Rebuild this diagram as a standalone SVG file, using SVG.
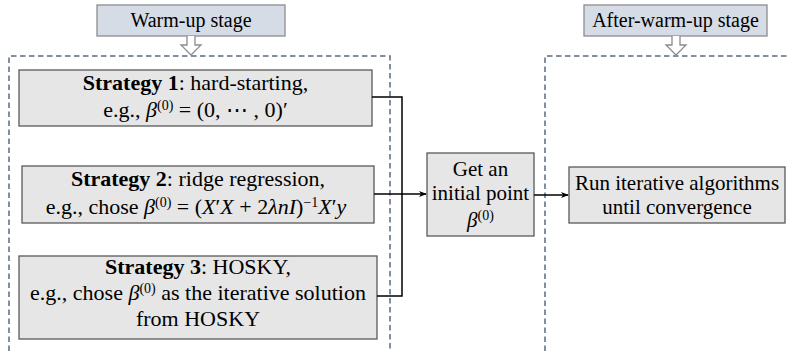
<svg xmlns="http://www.w3.org/2000/svg" width="790" height="351" viewBox="0 0 790 351">
<style>
.t{font-family:"Liberation Serif","Times New Roman",serif;font-size:22px;fill:#000;text-anchor:middle}
.s{font-size:20px}
.r{font-size:21px}
.m{font-style:italic}
.sup{font-size:14px}
.box{fill:#e7e6e6;stroke:#595959;stroke-width:1.3}
.stage{fill:#d6dce5;stroke:#8c8c8c;stroke-width:1.3}
.hollow{fill:#fff;stroke:#8c8c8c;stroke-width:1.3}
.dash{fill:none;stroke:#5a6b80;stroke-width:1.5;stroke-dasharray:5.5 3.5}
.conn{fill:none;stroke:#000;stroke-width:1.5}
</style>
<defs>
<marker id="ah" viewBox="0 0 10 10" refX="9" refY="5" markerWidth="8" markerHeight="8" markerUnits="userSpaceOnUse" orient="auto">
<path d="M0,1 L10,5 L0,9 L3,5 Z" fill="#000"/>
</marker>
</defs>
<g id="warmup-frame">
<path class="dash" d="M9,351 V56 H390 V351"/>
</g>
<g id="after-frame">
<path class="dash" d="M545,351 V56 H790"/>
</g>
<g id="warmup-label">
<rect class="stage" x="97" y="5" width="188" height="31"/>
<text class="t s" x="191" y="27">Warm-up stage</text>
<path class="hollow" d="M187,36 V45 H181 L191,55 L201,45 H195 V36"/>
</g>
<g id="after-label">
<rect class="stage" x="584" y="5" width="183" height="31"/>
<text class="t s" x="675.5" y="27">After-warm-up stage</text>
<path class="hollow" d="M672,36 V45 H666 L676,55 L686,45 H680 V36"/>
</g>
<g id="strategy1">
<rect class="box" x="19" y="70" width="353" height="56"/>
<text class="t" x="195.5" y="90"><tspan font-weight="bold">Strategy 1</tspan>: hard-starting,</text>
<text class="t" x="195.5" y="117">e.g., <tspan class="m">β</tspan><tspan class="sup" dy="-7">(0)</tspan><tspan dy="7"> = (0, ⋯ , 0)′</tspan></text>
</g>
<g id="strategy2">
<rect class="box" x="22" y="166" width="352" height="57"/>
<text class="t" x="198" y="186"><tspan font-weight="bold">Strategy 2</tspan>: ridge regression,</text>
<text class="t" x="196" y="214">e.g., chose <tspan class="m">β</tspan><tspan class="sup" dy="-7">(0)</tspan><tspan dy="7"> =  (</tspan><tspan class="m">X</tspan>′<tspan class="m">X</tspan> + 2<tspan class="m">λnI</tspan>)<tspan class="sup" dy="-7">−1</tspan><tspan class="m" dy="7">X</tspan>′<tspan class="m">y</tspan></text>
</g>
<g id="strategy3">
<rect class="box" x="19" y="256" width="358" height="83"/>
<text class="t" x="198" y="274"><tspan font-weight="bold">Strategy 3</tspan>: HOSKY,</text>
<text class="t" x="198" y="300">e.g., chose <tspan class="m">β</tspan><tspan class="sup" dy="-7">(0)</tspan><tspan dy="7"> as the iterative solution</tspan></text>
<text class="t" x="198" y="326">from HOSKY</text>
</g>
<g id="initial-point">
<rect class="box" x="427" y="153" width="107" height="83"/>
<text class="t r" x="480.5" y="176">Get an</text>
<text class="t r" x="480.5" y="200">initial point</text>
<text class="t r" x="480.5" y="227"><tspan class="m">β</tspan><tspan class="sup" dy="-7">(0)</tspan></text>
</g>
<g id="run-iterative">
<rect class="box" x="569" y="167" width="216" height="56"/>
<text class="t r" x="677" y="190">Run iterative algorithms</text>
<text class="t r" x="677" y="214">until convergence</text>
</g>
<g id="connectors">
<path class="conn" d="M372,97 H402 V296 H377"/>
<path class="conn" d="M374,194 H426" marker-end="url(#ah)"/>
<path class="conn" d="M534,195 H568" marker-end="url(#ah)"/>
</g>
</svg>
